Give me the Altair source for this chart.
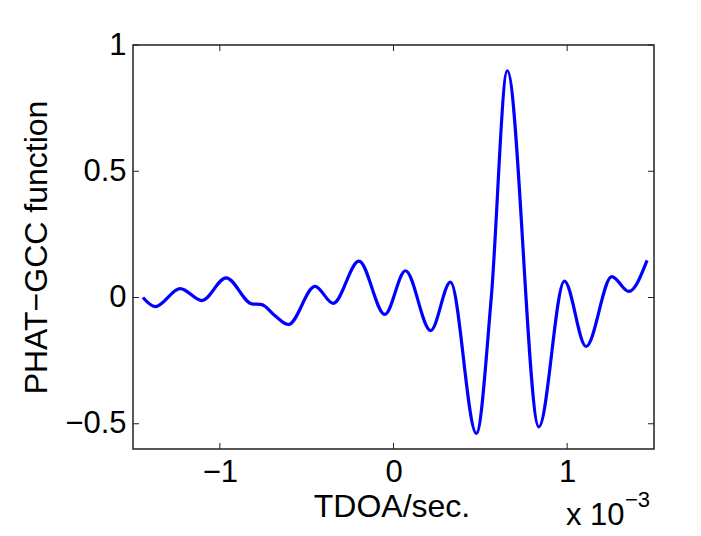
import altair as alt
import pandas as pd

# ---- data (TDOA in units of 1e-3 s) ----
tdoa_ms = [-1.443, -1.372, -1.228, -1.103, -0.964, -0.816, -0.759, -0.684,
           -0.605, -0.452, -0.347, -0.199, -0.050, 0.069, 0.214, 0.328,
           0.477, 0.563, 0.655, 0.837, 0.984, 1.109, 1.257, 1.355, 1.460]
gcc = [0.000, -0.036, 0.035, -0.012, 0.078, -0.025, -0.028, -0.071,
       -0.107, 0.044, -0.023, 0.144, -0.067, 0.106, -0.131, 0.061,
       -0.538, 0.000, 0.898, -0.512, 0.065, -0.194, 0.083, 0.024, 0.147]

x_ticks = [-1, 0, 1]
y_ticks = [-0.5, 0, 0.5, 1]
x_domain = [-1.5, 1.5]
y_domain = [-0.6, 1.0]

x_title = "TDOA/sec."
y_title = "PHAT\u2212GCC function"
exp_base = ["x 10"]
exp_power = ["\u22123"]

W, H = 521, 404
FONT = "Liberation Sans"
FS = 31
TFS = 32
FRAME = "#222222"
TL = 6

df = pd.DataFrame({"t": tdoa_ms, "g": gcc})
xt = pd.DataFrame({"t": x_ticks})
yt = pd.DataFrame({"g": y_ticks})

xs = alt.Scale(domain=x_domain, nice=False, zero=False)
ys = alt.Scale(domain=y_domain, nice=False, zero=False)

x_axis = alt.Axis(
    values=x_ticks, title=x_title, labelPadding=8, format="~g",
    titleX=W / 2 - 2, titleY=57, titleBaseline="middle", titleAlign="center")
y_axis = alt.Axis(
    values=y_ticks, title=y_title, labelPadding=7,
    labelExpr="format(datum.value, '.1~f')",
    titleX=-97, titleY=H / 2, titleBaseline="middle", titleAlign="center")

X = alt.X("t:Q", scale=xs, axis=x_axis)
Y = alt.Y("g:Q", scale=ys, axis=y_axis)

line = alt.Chart(df).mark_line(
    color="#0000ff", strokeWidth=3.2, interpolate="monotone", clip=True
).encode(x=X, y=Y)

bt = alt.Chart(xt).mark_rule(color=FRAME, strokeWidth=1).encode(
    x=X, y=alt.value(H), y2=alt.value(H - TL))
tt = alt.Chart(xt).mark_rule(color=FRAME, strokeWidth=1).encode(
    x=X, y=alt.value(0), y2=alt.value(TL))
lt = alt.Chart(yt).mark_rule(color=FRAME, strokeWidth=1).encode(
    y=Y, x=alt.value(0), x2=alt.value(TL))
rt = alt.Chart(yt).mark_rule(color=FRAME, strokeWidth=1).encode(
    y=Y, x=alt.value(W), x2=alt.value(W - TL))

eb = alt.Chart(pd.DataFrame({"s": exp_base})).mark_text(
    font=FONT, fontSize=FS, align="left", baseline="alphabetic", color="black"
).encode(text="s:N", x=alt.value(433), y=alt.value(480))
ep = alt.Chart(pd.DataFrame({"s": exp_power})).mark_text(
    font=FONT, fontSize=22, align="left", baseline="alphabetic", color="black"
).encode(text="s:N", x=alt.value(492), y=alt.value(462))

chart = alt.layer(line, bt, tt, lt, rt, eb, ep).properties(
    width=W, height=H,
    autosize=alt.AutoSizeParams(type="none"),
    padding={"left": 125, "top": 37, "right": 39, "bottom": 85},
    background="white",
).configure_view(
    stroke=FRAME, strokeWidth=1.5
).configure_axis(
    grid=False, ticks=False, domain=False,
    labelFont=FONT, labelFontSize=FS, labelColor="black",
    titleFont=FONT, titleFontSize=TFS, titleColor="black", titleFontWeight="normal",
)

chart.save("out.html", embed_options={"renderer": "svg", "actions": False})
